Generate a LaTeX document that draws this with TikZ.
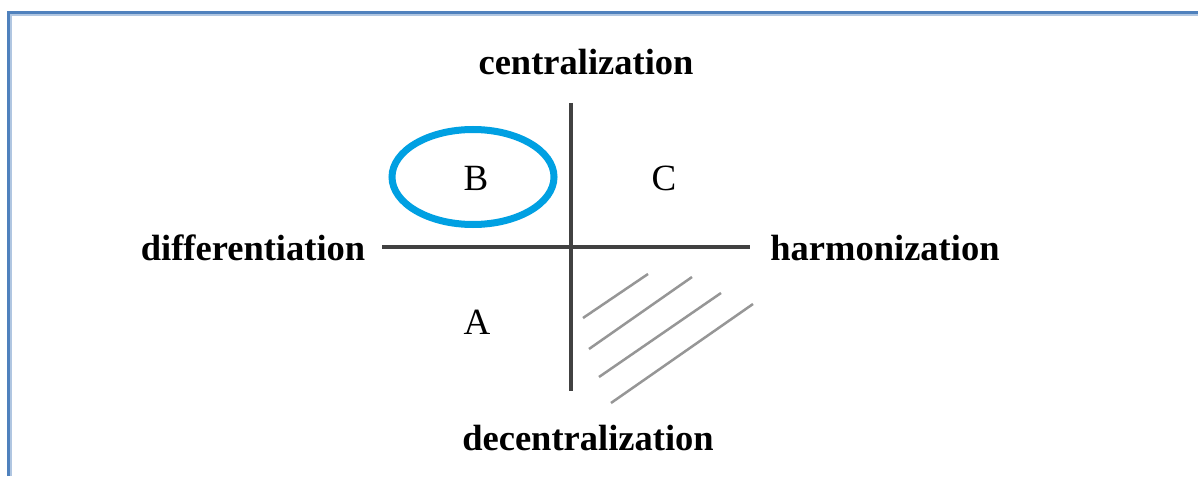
\documentclass[tikz,border=0pt]{standalone}
\usepackage{fontspec}
\setmainfont{Liberation Serif}
\usetikzlibrary{shapes.geometric}
\definecolor{frameblue}{RGB}{79,129,189}
\definecolor{ovalblue}{RGB}{0,160,226}
\definecolor{axisgray}{RGB}{65,65,65}
\definecolor{hatchgray}{RGB}{150,150,150}
\begin{document}
\begin{tikzpicture}[x=1pt,y=-1pt,
  axislabel/.style={font=\fontsize{36.5}{40}\selectfont\bfseries, inner sep=0pt},
  quadlabel/.style={font=\fontsize{37}{42}\selectfont, inner sep=0pt},
  axisline/.style={draw=axisgray, line width=3.2pt},
  hatchline/.style={draw=hatchgray, line width=2.5pt},
  oval/.style={draw=ovalblue, line width=7pt, ellipse, inner sep=0pt}]
\useasboundingbox (0,0) rectangle (1198,476);
\fill[white] (0,0) rectangle (1198,476);
% frame
\draw[frameblue!45, line width=2pt] (10.5,476) -- (10.5,15) -- (1198,15);
\draw[frameblue, line width=3pt] (8,476) -- (8,12.5) -- (1198,12.5);
% axes
\coordinate (top) at (571,103);
\coordinate (bot) at (571,391);
\coordinate (lft) at (382,247);
\coordinate (rgt) at (750,247);
\draw[axisline] (top) -- (bot);
\draw[axisline] (lft) -- (rgt);
% labels
\node[axislabel] (cen) at (586,62) {centralization};
\node[axislabel] (dif) at (253,248) {differentiation};
\node[axislabel] (har) at (885,248) {harmonization};
\node[axislabel] (dec) at (588,438) {decentralization};
% quadrants
\node[oval, minimum width=162pt, minimum height=95pt] (ov) at (473,177) {};
\node[quadlabel] (B) at (476,178) {B};
\node[quadlabel] (C) at (664,178) {C};
\node[quadlabel] (A) at (477,322) {A};
% hatching
\draw[hatchline] (583,318) -- (648,274);
\draw[hatchline] (589,349) -- (692,277);
\draw[hatchline] (599,377) -- (721,293);
\draw[hatchline] (611,403) -- (753,304);
\end{tikzpicture}
\end{document}
